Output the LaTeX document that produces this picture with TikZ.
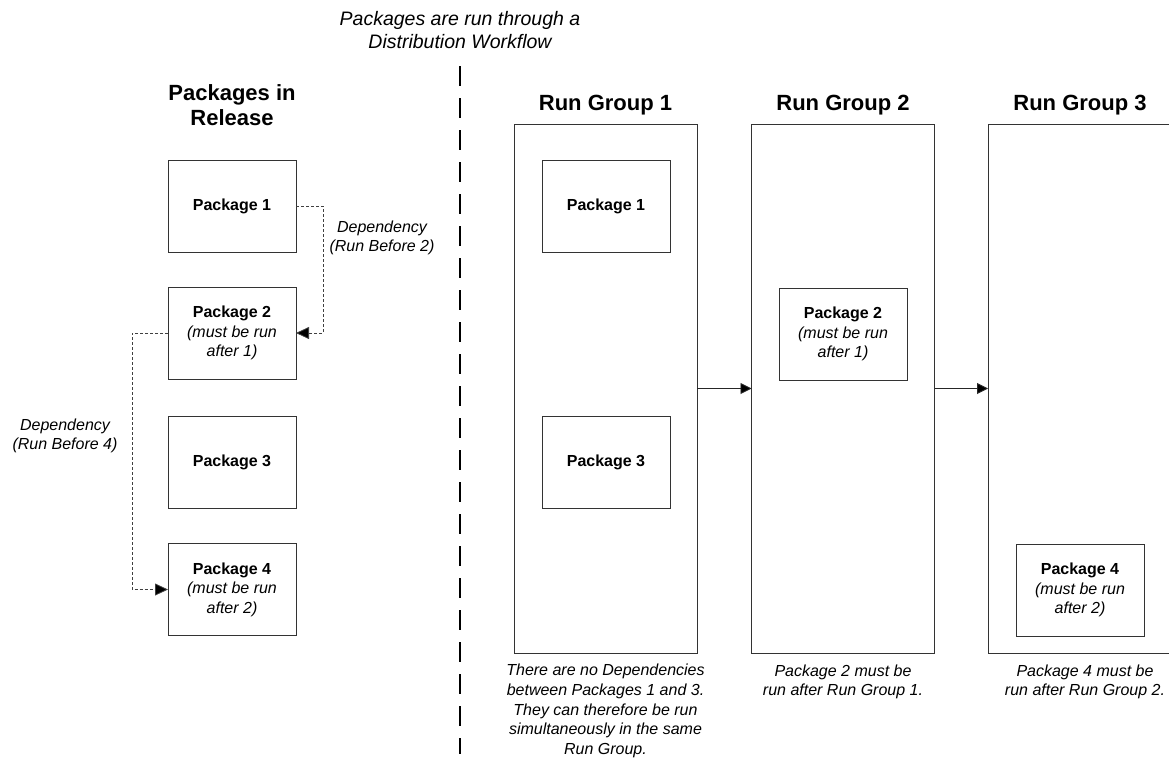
\documentclass[tikz,border=0pt]{standalone}
\usepackage{fontspec}
\setmainfont{Liberation Sans}
\usetikzlibrary{arrows.meta}
\begin{document}
\begin{tikzpicture}[x=1pt,y=-1pt,
  pkg/.style={draw=black!80,line width=0.9pt,minimum width=128pt,minimum height=92pt,inner sep=0pt,outer sep=0pt,align=center,font=\fontsize{16}{19.5}\selectfont},
  grp/.style={draw=black!80,line width=0.9pt,minimum width=183pt,minimum height=529pt,inner sep=0pt,outer sep=0pt},
  head/.style={align=center,font=\fontsize{22}{25}\selectfont\bfseries},
  note/.style={align=center,font=\fontsize{16}{19.6}\selectfont\itshape},
  dep/.style={draw=black!75,line width=0.8pt,dash pattern=on 3pt off 2pt,-{Triangle[length=13pt,width=12pt,fill=black]}},
  flow/.style={draw=black!85,line width=0.9pt,-{Triangle[length=11pt,width=11pt,fill=black]}}
]
\clip (0,0) rectangle (1169,758);
\fill[white] (0,0) rectangle (1169,758);

% title and divider
\node[note,font=\fontsize{19.5}{23}\selectfont\itshape] (title) at (460,30) {Packages are run through a\\Distribution Workflow};
\coordinate (divtop) at (460,66);
\coordinate (divbot) at (460,754);
\draw[line width=2pt,dash pattern=on 20pt off 12pt] (divtop) -- (divbot);

% left side
\node[head] (lhead) at (232,105.5) {Packages in\\Release};
\node[pkg] (p1l) at (232,206) {\bfseries Package 1};
\node[pkg] (p2l) at (232,333) {\bfseries Package 2\\\itshape (must be run\\\itshape after 1)};
\node[pkg] (p3l) at (232,462) {\bfseries Package 3};
\node[pkg] (p4l) at (232,589.5) {\bfseries Package 4\\\itshape (must be run\\\itshape after 2)};

\draw[dep] (p1l.east) -- ++(27,0) |- (p2l.east);
\draw[dep] (p2l.west) -- ++(-36,0) |- (p4l.west);
\node[note] (dep1) at (382,238) {Dependency\\(Run Before 2)};
\node[note] (dep2) at (65,436) {Dependency\\(Run Before 4)};

% run groups
\node[grp] (rg1) at (605.5,388.5) {};
\node[grp] (rg2) at (843,388.5) {};
\node[grp] (rg3) at (1079.5,388.5) {};
\node[head] (h1) at (605.5,105) {Run Group 1};
\node[head] (h2) at (843,105) {Run Group 2};
\node[head] (h3) at (1080,105) {Run Group 3};

\node[pkg] (p1r) at (606,206) {\bfseries Package 1};
\node[pkg] (p3r) at (606,462) {\bfseries Package 3};
\node[pkg] (p2r) at (843,334) {\bfseries Package 2\\\itshape (must be run\\\itshape after 1)};
\node[pkg] (p4r) at (1080,590) {\bfseries Package 4\\\itshape (must be run\\\itshape after 2)};

\draw[flow] (rg1.east) -- (rg2.west);
\draw[flow] (rg2.east) -- (rg3.west);

\node[note] (c1) at (605.5,711) {There are no Dependencies\\between Packages 1 and 3.\\They can therefore be run\\simultaneously in the same\\Run Group.};
\node[note] (c2) at (843,682) {Package 2 must be\\run after Run Group 1.};
\node[note] (c3) at (1085,682) {Package 4 must be\\run after Run Group 2.};
\end{tikzpicture}
\end{document}
